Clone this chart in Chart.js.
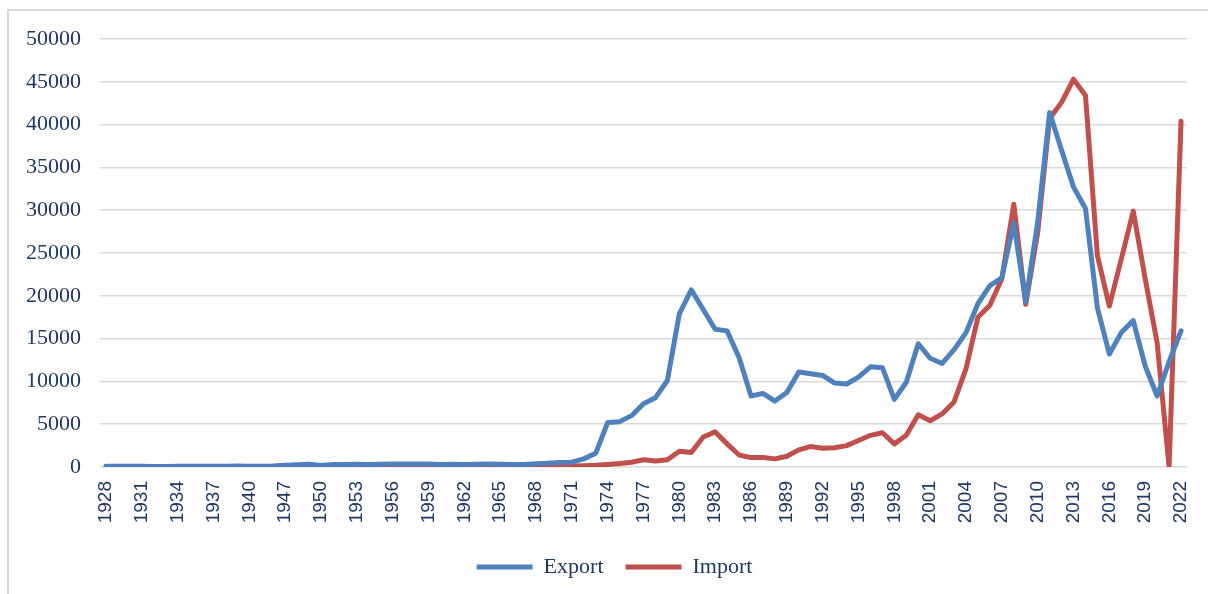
<!DOCTYPE html>
<html>
<head>
<meta charset="utf-8">
<script src="https://cdn.jsdelivr.net/npm/chart.js@4"></script>
<style>
  html, body { margin: 0; padding: 0; background: #fff; overflow: hidden; }
  #frame {
    position: absolute; left: 7px; top: 9px; width: 1400px; height: 700px;
    border-left: 2px solid #d9d9d9; border-top: 2px solid #d9d9d9;
  }
  #chart { position: absolute; left: 0; top: 0; }
</style>
</head>
<body>
<div id="frame"></div>
<canvas id="chart" width="1208" height="594"></canvas>
<script>
// Years on the x axis (1941-1944 are missing in the source)
const years = [
  1928, 1929, 1930, 1931, 1932, 1933, 1934, 1935, 1936, 1937, 1938, 1939, 1940,
  1945, 1946,
  1947, 1948, 1949, 1950, 1951, 1952, 1953, 1954, 1955, 1956, 1957, 1958, 1959,
  1960, 1961, 1962, 1963, 1964, 1965, 1966, 1967, 1968, 1969, 1970, 1971, 1972,
  1973, 1974, 1975, 1976, 1977, 1978, 1979, 1980, 1981, 1982, 1983, 1984, 1985,
  1986, 1987, 1988, 1989, 1990, 1991, 1992, 1993, 1994, 1995, 1996, 1997, 1998,
  1999, 2000, 2001, 2002, 2003, 2004, 2005, 2006, 2007, 2008, 2009, 2010, 2011,
  2012, 2013, 2014, 2015, 2016, 2017, 2018, 2019, 2020, 2021, 2022
];

const exportValues = [
  80, 90, 90, 80, 70, 70, 80, 80, 90, 100, 100, 110, 100,
  80, 120,
  200, 260, 330, 170, 300, 300, 310, 300, 320, 350, 360, 350, 340,
  300, 330, 300, 330, 340, 330, 300, 300, 380, 450, 520, 560, 950,
  1600, 5200, 5300, 6000, 7400, 8100, 10100, 17900, 20700, 18400, 16100, 15900, 12800,
  8300, 8600, 7700, 8700, 11100, 10900, 10700, 9800, 9700, 10500, 11700, 11600, 7900,
  9900, 14400, 12700, 12100, 13700, 15700, 19100, 21200, 22100, 28500, 19300, 28600, 41400,
  37000, 32700, 30200, 18600, 13200, 15700, 17100, 11800, 8300, 12300, 15900
];

const importValues = [
  40, 50, 50, 40, 30, 30, 40, 40, 40, 50, 50, 50, 50,
  40, 60,
  80, 90, 90, 80, 80, 90, 90, 90, 90, 90, 100, 100, 100,
  90, 90, 90, 90, 90, 100, 100, 100, 100, 110, 110, 120, 150,
  200, 300, 400, 550, 850, 700, 850, 1850, 1700, 3500, 4100, 2700, 1400,
  1100, 1100, 950, 1250, 2000, 2400, 2200, 2250, 2500, 3100, 3700, 4000, 2700,
  3700, 6100, 5400, 6200, 7600, 11500, 17500, 18900, 22000, 30700, 19000, 27400, 40700,
  42600, 45300, 43400, 24700, 18800, 24300, 29900, 22000, 14500, 0, 40400
];

const seriesNames = ["Export", "Import"];
const seriesColors = ["#4f81bd", "#c0504d"];

const textColor = "#1f3864";
const lineWidth = 5;

// Excel centres the legend a bit to the right of the canvas middle
const shiftLegend = {
  id: "shiftLegend",
  afterLayout(chart) {
    chart.legend.left += 21;
    chart.legend.right += 21;
  },
};

const ctx = document.getElementById("chart").getContext("2d");

new Chart(ctx, {
  type: "line",
  data: {
    labels: years,
    datasets: [
      {
        label: seriesNames[0],
        data: exportValues,
        borderColor: seriesColors[0],
        backgroundColor: seriesColors[0],
        borderWidth: lineWidth,
      },
      {
        label: seriesNames[1],
        data: importValues,
        borderColor: seriesColors[1],
        backgroundColor: seriesColors[1],
        borderWidth: lineWidth,
      },
    ],
  },
  plugins: [shiftLegend],
  options: {
    responsive: false,
    animation: false,
    devicePixelRatio: 1,
    layout: {
      padding: { left: 0, right: 21, top: 39, bottom: 6 },
    },
    elements: {
      line: {
        tension: 0,
        borderJoinStyle: "round",
        borderCapStyle: "round",
      },
      point: { radius: 0 },
    },
    scales: {
      x: {
        offset: true,
        grid: { display: false, drawTicks: false },
        border: { display: false },
        ticks: {
          autoSkip: false,
          maxRotation: 90,
          minRotation: 90,
          padding: 14,
          color: textColor,
          font: { family: "'Liberation Sans', Arial, sans-serif", size: 19 },
          callback: function (value, index) {
            return index % 3 === 0 ? this.getLabelForValue(value) : "";
          },
        },
        afterFit: (scale) => {
          scale.height = 67;
          scale.paddingLeft = 0;
          scale.paddingRight = 0;
        },
      },
      y: {
        min: 0,
        max: 50000,
        grid: { color: "#d9d9d9", lineWidth: 1.5, drawTicks: false },
        border: { display: false },
        ticks: {
          stepSize: 5000,
          padding: 19,
          color: textColor,
          font: { family: "'Liberation Serif', 'Times New Roman', serif", size: 22 },
          callback: (value) => String(value),
        },
        afterFit: (scale) => {
          scale.width = 100;
        },
      },
    },
    plugins: {
      tooltip: { enabled: false },
      legend: {
        position: "bottom",
        labels: {
          usePointStyle: true,
          pointStyle: "line",
          pointStyleWidth: 56,
          padding: 22,
          color: textColor,
          font: { family: "'Liberation Serif', 'Times New Roman', serif", size: 22 },
        },
      },
    },
  },
});
</script>
</body>
</html>
